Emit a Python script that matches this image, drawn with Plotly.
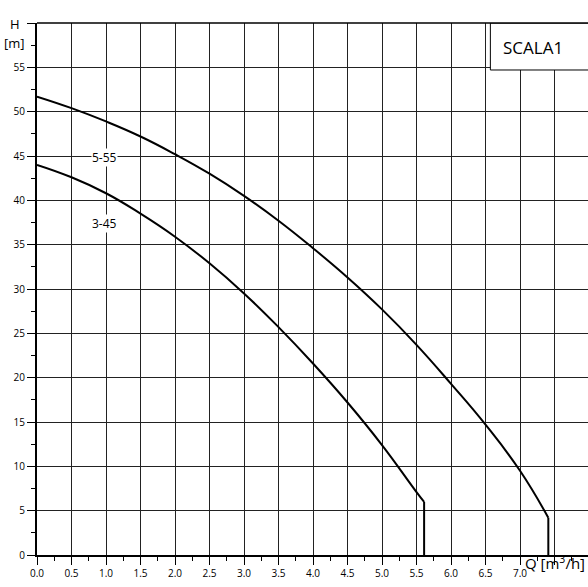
import numpy as np
import plotly.graph_objects as go

# --- data ---
q_555 = [0.0, 0.5, 1.0, 1.5, 2.0, 2.5, 3.0, 3.5, 4.0, 4.5, 5.0, 5.5, 6.0, 6.5, 7.0, 7.41]
h_555 = [51.7, 50.4, 48.9, 47.2, 45.2, 43.0, 40.5, 37.7, 34.6, 31.3, 27.7, 23.7, 19.3, 14.7, 9.5, 4.2]
q_555_end = [7.41, 7.41]
h_555_end = [4.2, 0.0]

q_345 = [0.0, 0.5, 1.0, 1.5, 2.0, 2.5, 3.0, 3.5, 4.0, 4.5, 5.0, 5.5, 5.61]
h_345 = [44.0, 42.6, 40.8, 38.5, 35.9, 32.9, 29.5, 25.7, 21.6, 17.2, 12.4, 7.1, 6.0]
q_345_end = [5.61, 5.61]
h_345_end = [6.0, 0.0]

x_tickvals = [0.0, 0.5, 1.0, 1.5, 2.0, 2.5, 3.0, 3.5, 4.0, 4.5, 5.0, 5.5, 6.0, 6.5, 7.0, 7.5]
x_ticktext = ["0.0", "0.5", "1.0", "1.5", "2.0", "2.5", "3.0", "3.5", "4.0", "4.5",
              "5.0", "5.5", "6.0", "6.5", "7.0", " "]
y_tickvals = [0, 5, 10, 15, 20, 25, 30, 35, 40, 45, 50, 55, 60]
y_ticktext = ["0", "5", "10", "15", "20", "25", "30", "35", "40", "45", "50", "55", " "]

labels = ["5-55", "3-45"]
label_q = [0.98, 0.98]
label_h = [44.8, 37.4]

X_MAX = 7.985
Y_MAX = 60

FONT = "Open Sans"

fig = go.Figure()
line = dict(color="black", width=2)
curve = dict(color="black", width=2, shape="spline", smoothing=1.3)
fig.add_trace(go.Scatter(x=q_555, y=h_555, mode="lines", line=curve, hoverinfo="skip"))
fig.add_trace(go.Scatter(x=q_555_end, y=h_555_end, mode="lines", line=line, hoverinfo="skip"))
fig.add_trace(go.Scatter(x=q_345, y=h_345, mode="lines", line=curve, hoverinfo="skip"))
fig.add_trace(go.Scatter(x=q_345_end, y=h_345_end, mode="lines", line=line, hoverinfo="skip"))

for t, qx, hy in zip(labels, label_q, label_h):
    fig.add_annotation(x=qx, y=hy, text=t, showarrow=False, bgcolor="white",
                       font=dict(family=FONT, size=12, color="black"), borderpad=0)

# SCALA1 box
fig.add_shape(type="rect", x0=6.57, x1=X_MAX + 0.02, y0=54.7, y1=Y_MAX,
              line=dict(color="black", width=1), fillcolor="white", layer="above")
fig.add_annotation(x=7.19, y=57.2, text="SCALA1", showarrow=False,
                   font=dict(family=FONT, size=17, color="black"))
# top border
fig.add_shape(type="line", xref="paper", yref="paper", x0=0, x1=1, y0=1, y1=1,
              line=dict(color="black", width=1.5))

fig.add_annotation(xref="paper", yref="paper", x=-0.04, xanchor="center", y=1.019, text="H",
                   showarrow=False, font=dict(family=FONT, size=13, color="black"))
fig.add_annotation(xref="paper", yref="paper", x=-0.04, xanchor="center", y=0.983, text="[m]",
                   showarrow=False, font=dict(family=FONT, size=13, color="black"))
fig.add_annotation(xref="paper", yref="paper", x=0.999, xanchor="right", y=-0.038,
                   text="Q [m<sup>3</sup>/h]", showarrow=False,
                   font=dict(family=FONT, size=15, color="black"))

fig.update_xaxes(range=[0, X_MAX], tickmode="array", tickvals=x_tickvals, ticktext=x_ticktext,
                 ticks="outside", ticklen=8, tickcolor="black", tickwidth=1, automargin=False,
                 showgrid=True, gridcolor="#222222", gridwidth=1,
                 showline=True, linecolor="black", linewidth=2, zeroline=False,
                 tickfont=dict(family=FONT, size=10, color="black"),
                 minor=dict(tickmode="array", tickvals=[0.25 + 0.5 * i for i in range(16)],
                            ticks="outside", ticklen=4, tickcolor="black", showgrid=False))
fig.update_yaxes(range=[0, Y_MAX], tickmode="array", tickvals=y_tickvals, ticktext=y_ticktext,
                 ticks="outside", ticklen=8, tickcolor="black", tickwidth=1, automargin=False,
                 showgrid=True, gridcolor="#222222", gridwidth=1,
                 showline=True, linecolor="black", linewidth=2, zeroline=False,
                 tickfont=dict(family=FONT, size=10, color="black"),
                 minor=dict(tickmode="array", tickvals=[2.5 + 5 * i for i in range(12)],
                            ticks="outside", ticklen=4, tickcolor="black", showgrid=False))

fig.update_layout(width=588, height=587, margin=dict(l=37, r=0, t=23, b=32),
                  plot_bgcolor="white", paper_bgcolor="white", showlegend=False)

fig.write_html("out.html", config={"displayModeBar": False})

# remove the default page margin so the figure sits at the window's top-left corner
with open("out.html", "r", encoding="utf-8") as f:
    html = f.read()
html = html.replace("<head>", "<head><style>html,body{margin:0;padding:0;overflow:hidden;}</style>", 1)
with open("out.html", "w", encoding="utf-8") as f:
    f.write(html)
